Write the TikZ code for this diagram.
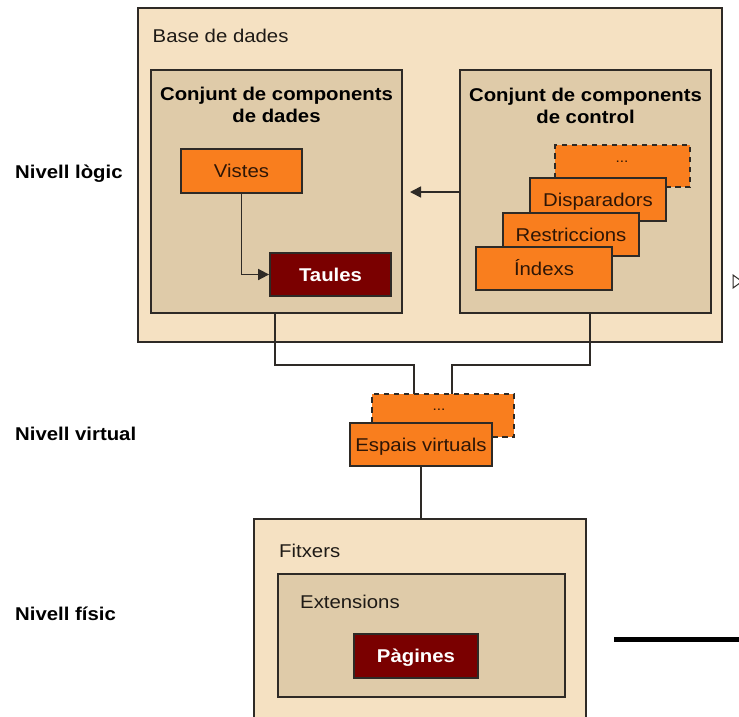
\documentclass[tikz,border=0pt]{standalone}
\usepackage{fontspec}
\setmainfont{Liberation Sans}[FakeStretch=1.1]
\usetikzlibrary{arrows.meta}
\definecolor{beigeO}{HTML}{F5E1C2}
\definecolor{beigeI}{HTML}{DFCBA9}
\definecolor{orangeB}{HTML}{F97E1E}
\definecolor{darkred}{HTML}{7A0000}
\definecolor{edgec}{HTML}{2E2A26}
\definecolor{txt}{HTML}{1E1A16}
\definecolor{otxt}{HTML}{2E1606}
\tikzset{
  lbl/.style={font=\fontsize{18.5}{22}\selectfont, text=txt, inner sep=0pt},
  dotlbl/.style={font=\fontsize{14}{16}\selectfont, text=otxt, inner sep=0pt},
  blbl/.style={font=\fontsize{18.5}{22}\selectfont\bfseries, text=black, inner sep=0pt},
  boxbase/.style={draw=edgec, line width=1.8pt, rectangle, inner sep=0pt},
  outerbox/.style={boxbase, fill=beigeO},
  innerbox/.style={boxbase, fill=beigeI},
  orangebox/.style={boxbase, fill=orangeB, text=otxt, font=\fontsize{18.5}{22}\selectfont,
     text height=13.3pt, text depth=0pt},
  dashbox/.style={orangebox, dash pattern=on 5.5pt off 4.5pt},
  redbox/.style={boxbase, fill=darkred, text=white, font=\fontsize{18.5}{22}\selectfont\bfseries,
     text height=13.3pt, text depth=0pt},
  conn/.style={draw=edgec, line width=1.7pt},
  arr/.style={conn, -{Triangle[length=11pt,width=11pt]}},
}
\begin{document}
\begin{tikzpicture}[x=1pt,y=-1pt]
\useasboundingbox (0,0) rectangle (739,716);
\clip (0,0) rectangle (739,716);
\fill[white] (0,0) rectangle (739,716);

% level labels
\node[blbl, anchor=base west] (nlogic) at (15,178) {Nivell lògic};
\node[blbl, anchor=base west] (nvirt) at (15,440) {Nivell virtual};
\node[blbl, anchor=base west] (nfis) at (15,620) {Nivell físic};

% database container
\node[outerbox, minimum width=584pt, minimum height=334pt] (base) at (430,175) {};
\node[lbl, anchor=base west] (basel) at (152.5,42) {Base de dades};

% data components
\node[innerbox, minimum width=251pt, minimum height=243pt] (cdades) at (276.5,191.5) {};
\node[blbl, anchor=north, align=center] (cdadesl) at (276.5,86.7) {Conjunt de components\\de dades};
\node[orangebox, minimum width=121pt, minimum height=44pt] (vistes) at (241.5,171) {Vistes};
\node[redbox, minimum width=121pt, minimum height=43pt] (taules) at (330.5,274.5) {Taules};

% control components
\node[innerbox, minimum width=251pt, minimum height=243pt] (cctrl) at (585.5,191.5) {};
\node[blbl, anchor=north, align=center] (cctrll) at (585.5,87.7) {Conjunt de components\\de control};
\node[dashbox, minimum width=135pt, minimum height=42pt] (dots1) at (622.5,166) {};
\node[dotlbl] (dots1l) at (622,162) {...};
\node[orangebox, minimum width=136pt, minimum height=43pt] (disp) at (598,199.5) {Disparadors};
\node[orangebox, minimum width=136pt, minimum height=43pt] (restr) at (571,234.5) {Restriccions};
\node[orangebox, minimum width=136pt, minimum height=43pt] (index) at (544,268.5) {Índexs};

% virtual level
\node[dashbox, minimum width=142pt, minimum height=43pt] (dots2) at (443,415.5) {};
\node[dotlbl] (dots2l) at (439,410) {...};
\node[orangebox, minimum width=142pt, minimum height=43pt] (espais) at (421,444.5) {Espais virtuals};

% physical level
\node[outerbox, minimum width=332pt, minimum height=240pt] (fitxers) at (420,639) {};
\node[lbl, anchor=base west] (fitxersl) at (279,557) {Fitxers};
\node[innerbox, minimum width=287pt, minimum height=123pt] (ext) at (421.5,635.5) {};
\node[lbl, anchor=base west] (extl) at (300,608) {Extensions};
\node[redbox, minimum width=124pt, minimum height=44pt] (pagines) at (416,656) {Pàgines};

% connectors
\draw[arr] (vistes.south) |- (taules.west);
\coordinate (tipA) at (410,192);
\draw[arr] (cctrl.west |- tipA) -- (tipA);
\coordinate (j1) at (414,394);
\coordinate (j2) at (452,394);
\draw[conn] ([xshift=-1.5pt]cdades.south) -- ++(0,51) -| (j1);
\draw[conn] ([xshift=4.5pt]cctrl.south) -- ++(0,51) -| (j2);
\draw[conn] (espais.south) -- (espais.south |- fitxers.north);

% stray marks at the right edge
\draw[edgec, line width=1pt] (733,275) -- (733,288) -- (742,281.5) -- cycle;
\draw[black, line width=5pt] (614,639) -- (745,639);
\end{tikzpicture}
\end{document}
